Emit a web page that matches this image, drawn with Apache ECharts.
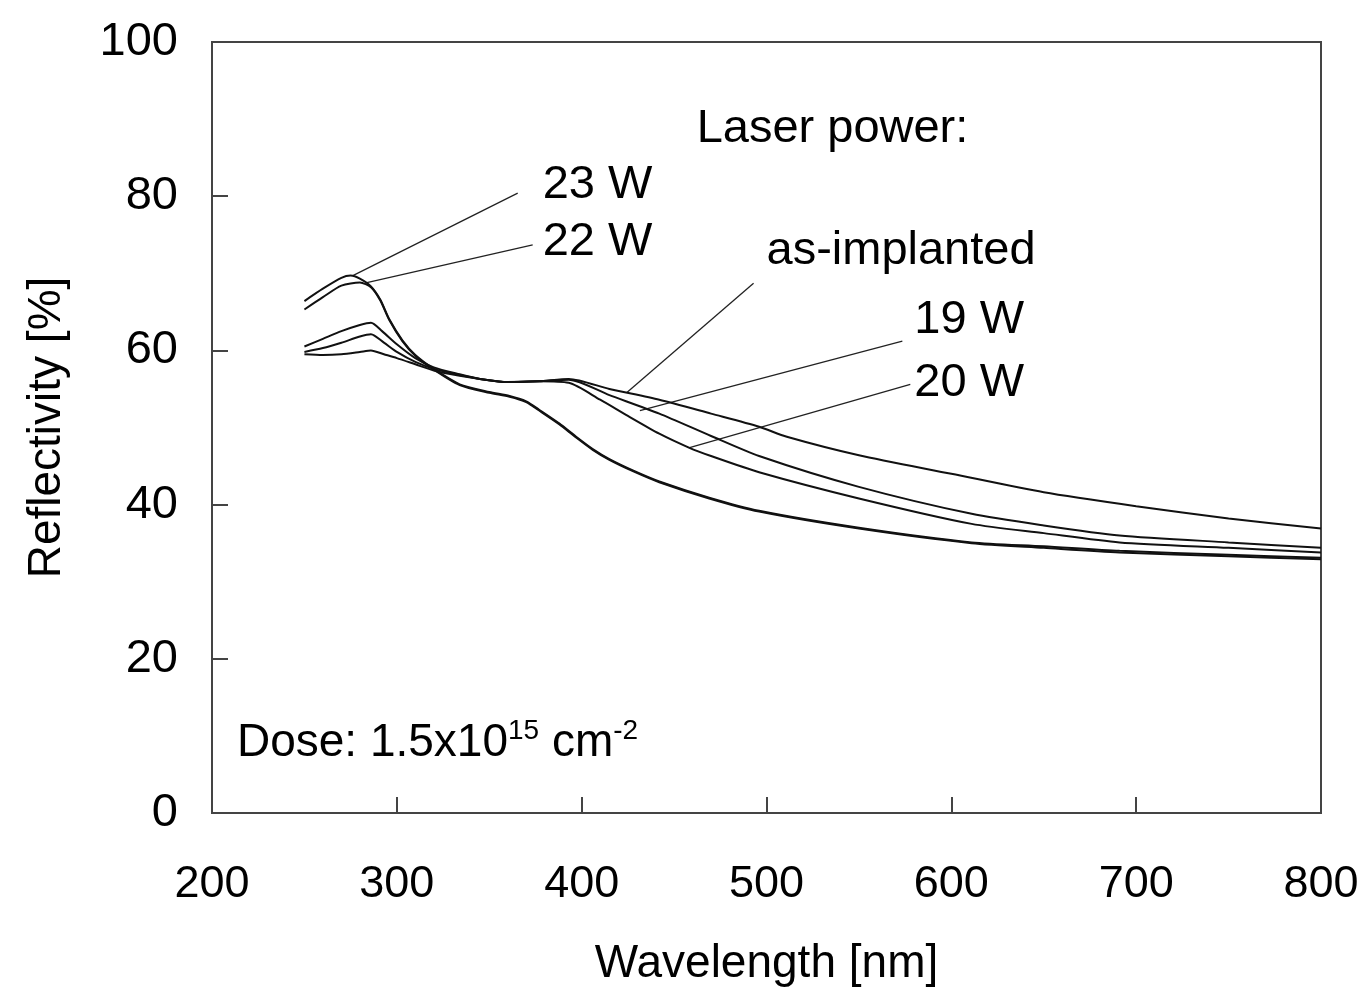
<!DOCTYPE html>
<html>
<head>
<meta charset="utf-8">
<script src="https://cdn.jsdelivr.net/npm/echarts@6/dist/echarts.min.js"></script>
<style>
html,body{margin:0;padding:0;background:#fff;}
#chart{width:1362px;height:992px;}
</style>
</head>
<body>
<div id="chart"></div>
<script>
// ---- Data (wavelength nm, reflectivity %) ----
const w23 = [250,260,270,275,280,286,291,296,303,310,320,334,350,361,370,377,388,397,406,415,428,442,469,496,550,611,650,691,750,800];
const r23 = [66.4,68.0,69.4,69.7,69.3,68.3,66.6,64.0,61.3,59.4,57.6,55.6,54.6,54.1,53.4,52.3,50.5,48.8,47.2,45.9,44.4,43.0,40.9,39.2,37.0,35.1,34.6,34.0,33.5,33.1];
const w22 = [250,260,270,280,286,291,296,303,310,320,334,350,361,370,377,388,397,406,415,428,442,469,496,550,611,650,691,750,800];
const r22 = [65.3,66.9,68.4,68.8,68.2,66.5,63.9,61.2,59.3,57.5,55.5,54.5,54.0,53.3,52.2,50.4,48.7,47.1,45.8,44.3,42.9,40.8,39.1,36.9,35.0,34.4,33.8,33.3,32.9];
const w20 = [250,260,270,280,286,292,300,310,320,334,345,360,377,393,410,425,442,458,470,496,550,611,650,691,750,800];
const r20 = [60.5,61.5,62.5,63.3,63.6,62.5,60.8,59.0,57.8,56.9,56.3,55.9,56.0,55.8,53.6,51.5,49.2,47.4,46.3,44.2,40.8,37.5,36.3,35.1,34.4,33.8];
const w19 = [250,260,270,280,286,293,300,310,320,334,345,360,377,393,415,442,470,496,550,611,650,691,750,800];
const r19 = [59.8,60.3,61.0,61.8,62.1,61.0,59.8,58.5,57.6,56.8,56.3,55.9,56.0,56.2,54.2,51.8,48.9,46.3,42.3,38.8,37.3,36.0,35.1,34.4];
const wAs = [250,260,270,280,286,293,300,310,320,334,345,360,377,393,415,442,470,496,511,550,600,650,700,750,800];
const rAs = [59.5,59.4,59.5,59.8,60.0,59.5,59.0,58.2,57.4,56.7,56.3,55.9,56.0,56.3,55.0,53.6,51.8,50.1,48.8,46.4,44.0,41.6,39.8,38.2,36.9];

// axis ticks
const xTicks = [200,300,400,500,600,700,800];
const yTicks = [0,20,40,60,80,100];

// leader lines (data coordinates: label end, curve end)
const leader23 = [[365.4,80.4],[276.2,69.7]];
const leader22 = [[373.5,73.7],[283.8,68.8]];
const leaderAs = [[493,68.7],[424.3,54.5]];
const leader19 = [[573.5,61.2],[431.5,52.2]];
const leader20 = [[577.8,55.6],[458.4,47.4]];

// text annotations: [x, y, text]
const labelTexts = [
  [462.2,88.7,'Laser power:'],
  [378.9,81.5,'23 W'],
  [378.9,74.0,'22 W'],
  [500,72.9,'as-implanted'],
  [580,64.0,'19 W'],
  [580,55.8,'20 W']
];
const doseLabel = [213.5, 9.0];

function zip(a,b){return a.map((v,i)=>[v,b[i]]);}

const FONT = 'Liberation Sans, Arial, Helvetica, sans-serif';
const curveStyle = {color:'#111', width:2};

function curve(name, w, r){
  return {name, type:'line', data:zip(w,r), showSymbol:false, smooth:0.25,
    lineStyle:curveStyle, itemStyle:{color:'#111'}, silent:true, z:3};
}
function leader(d){
  return {type:'line', data:d, showSymbol:false, lineStyle:{color:'#222', width:1.3}, silent:true, z:2};
}

const chart = echarts.init(document.getElementById('chart'));
chart.setOption({
  backgroundColor:'#fff',
  animation:false,
  grid:{left:212, right:41, top:42, bottom:167, show:true, borderColor:'#444', borderWidth:2, backgroundColor:'transparent'},
  xAxis:{
    type:'value', min:200, max:800, interval:100,
    axisLine:{show:true, lineStyle:{color:'#444', width:2}},
    axisTick:{show:true, inside:true, length:16, lineStyle:{color:'#444', width:2}},
    splitLine:{show:false},
    axisLabel:{color:'#000', fontSize:45, fontFamily:FONT, margin:49},
    name:'Wavelength [nm]', nameLocation:'middle', nameGap:128,
    nameTextStyle:{color:'#000', fontSize:46, fontFamily:FONT}
  },
  yAxis:{
    type:'value', min:0, max:100, interval:20,
    axisLine:{show:true, lineStyle:{color:'#444', width:2}},
    axisTick:{show:true, inside:true, length:16, lineStyle:{color:'#444', width:2}},
    splitLine:{show:false},
    axisLabel:{color:'#000', fontSize:47, fontFamily:FONT, margin:34},
    name:'Reflectivity [%]', nameLocation:'middle', nameGap:142,
    nameTextStyle:{color:'#000', fontSize:46, fontFamily:FONT}
  },
  series:[
    curve('23 W', w23, r23),
    curve('22 W', w22, r22),
    curve('20 W', w20, r20),
    curve('19 W', w19, r19),
    curve('as-implanted', wAs, rAs),
    leader(leader23), leader(leader22), leader(leaderAs), leader(leader19), leader(leader20),
    {
      type:'scatter', symbolSize:0, silent:true, z:5,
      itemStyle:{opacity:1, color:'#000'},
      data:labelTexts.map(t=>({value:[t[0],t[1]], name:t[2]})),
      label:{show:true, position:'right', distance:0, formatter:p=>p.name,
        color:'#000', fontSize:47, fontFamily:FONT}
    },
    {
      type:'scatter', symbolSize:0, silent:true, z:5,
      itemStyle:{opacity:1, color:'#000'},
      data:[{value:doseLabel}],
      label:{show:true, position:'right', distance:0,
        formatter:'{a|Dose: 1.5x10}{s|15}{a| cm}{s|-2}',
        rich:{
          a:{color:'#000', fontSize:46, fontFamily:FONT, lineHeight:52},
          s:{color:'#000', fontSize:28, fontFamily:FONT, verticalAlign:'top', lineHeight:52, padding:[0,0,22,0]}
        }
      }
    }
  ]
});
</script>
</body>
</html>
